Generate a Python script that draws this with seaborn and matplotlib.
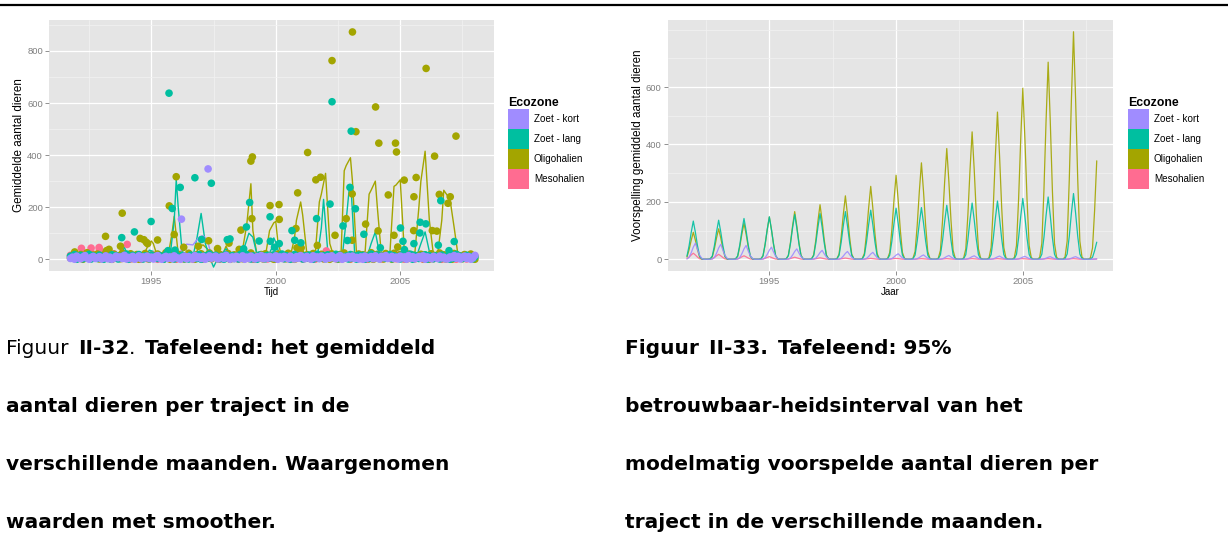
import numpy as np
import pandas as pd
import matplotlib
matplotlib.use("Agg")
import matplotlib.pyplot as plt
from matplotlib.lines import Line2D
from matplotlib.patches import Rectangle
from matplotlib.ticker import MultipleLocator
import seaborn as sns

# ---------------------------------------------------------------- zones
ZONES = ["Zoet - kort", "Zoet - lang", "Oligohalien", "Mesohalien"]
ZONE_COLORS = {"Zoet - kort": "#A08CFF", "Zoet - lang": "#00BFA0",
               "Oligohalien": "#A3A500", "Mesohalien": "#FF6C91"}

# ------------------------------------------ Figuur II-32: waarnemingen
OBS_START = 1991.75          # oktober 1991, daarna maandelijks

# lage maandwaarden per ecozone (aantal dieren)
laag_zoet_kort = [
    3, 8, 0, 12, 5, 2, 9, 14, 4, 0, 7, 11, 3, 6,
    10, 1, 5, 13, 2, 8, 0, 4, 12, 6, 9, 3, 15, 1,
    7, 4, 11, 0, 6, 13, 2, 9, 5, 12, 3, 8, 1, 10,
    14, 5, 0, 7, 11, 3, 9, 2, 13, 6, 4, 0, 8, 12,
    2, 10, 5, 1, 14, 6, 9, 3, 11, 0, 7, 13, 4, 8,
    12, 1, 6, 10, 3, 15, 5, 0, 9, 2, 11, 7, 4, 13,
    0, 8, 3, 12, 6, 1, 10, 5, 14, 2, 9, 4, 11, 7,
    5, 13, 0, 9, 3, 11, 7, 2, 12, 6, 1, 10, 4, 14,
    8, 2, 11, 5, 0, 13, 6, 9, 3, 12, 7, 1, 10, 4,
    13, 6, 2, 9, 14, 0, 8, 4, 11, 5, 12, 3, 7, 1,
    9, 0, 12, 4, 7, 10, 2, 13, 5, 1, 11, 6, 14, 3,
    6, 11, 3, 8, 1, 12, 5, 9, 0, 14, 4, 10, 2, 7,
    10, 4, 13, 0, 9, 6, 2, 11, 7, 3, 12, 5, 8, 1,
    2, 9, 6, 14, 4, 11, 1, 8, 12, 3, 10, 0, 5, 15]
laag_zoet_lang = [
    12, 4, 18, 0, 7, 15, 2, 10, 6, 19, 1, 13, 8, 3,
    16, 5, 0, 11, 9, 2, 17, 6, 14, 1, 8, 12, 4, 20,
    0, 10, 15, 3, 7, 18, 5, 1, 13, 9, 2, 16, 6, 11,
    3, 14, 8, 0, 19, 4, 12, 7, 1, 17, 10, 5, 15, 2,
    9, 1, 16, 6, 11, 3, 18, 0, 8, 13, 4, 20, 7, 10,
    15, 7, 2, 12, 0, 17, 9, 5, 14, 3, 11, 1, 19, 6,
    4, 18, 10, 1, 13, 6, 0, 16, 8, 12, 2, 15, 5, 9,
    17, 3, 11, 8, 20, 2, 14, 6, 0, 10, 18, 4, 12, 7,
    1, 13, 5, 16, 9, 0, 11, 19, 3, 7, 14, 2, 17, 8,
    10, 6, 19, 2, 15, 8, 4, 12, 1, 18, 5, 13, 0, 16,
    7, 15, 0, 11, 3, 20, 6, 9, 16, 2, 12, 8, 4, 14,
    18, 2, 13, 5, 10, 1, 17, 7, 11, 4, 19, 0, 15, 6,
    3, 12, 8, 17, 0, 14, 9, 2, 13, 6, 1, 16, 10, 5,
    11, 0, 16, 4, 19, 7, 12, 3, 8, 15, 5, 10, 2, 9]
laag_oligohalien = [
    5, 14, 22, 2, 9, 18, 0, 12, 25, 6, 3, 16, 10, 20,
    1, 8, 15, 23, 4, 11, 0, 19, 7, 13, 2, 24, 9, 17,
    6, 21, 3, 10, 18, 0, 14, 5, 22, 8, 1, 16, 12, 4,
    20, 7, 13, 2, 25, 9, 0, 17, 11, 3, 19, 6, 15, 1,
    8, 23, 4, 12, 0, 18, 10, 21, 2, 14, 6, 24, 3, 11,
    16, 1, 19, 7, 13, 5, 22, 0, 9, 17, 4, 12, 20, 2,
    10, 15, 3, 24, 6, 0, 13, 8, 18, 1, 21, 5, 11, 14,
    0, 9, 20, 4, 16, 11, 2, 23, 7, 13, 0, 18, 6, 25,
    12, 3, 17, 8, 1, 22, 10, 5, 15, 19, 2, 9, 14, 0,
    21, 6, 11, 0, 18, 4, 24, 13, 7, 2, 16, 10, 3, 20,
    4, 17, 8, 14, 2, 25, 0, 11, 19, 6, 12, 1, 22, 9,
    15, 0, 23, 5, 10, 18, 3, 13, 1, 20, 8, 16, 4, 12,
    7, 19, 2, 16, 11, 0, 21, 6, 14, 9, 24, 3, 17, 1,
    13, 8, 0, 22, 5, 15, 10, 2, 18, 4, 11, 20, 6, 0]
laag_mesohalien = [
    15, 8, 20, 12, 3, 18, 10, 22, 6, 14, 25, 9, 17, 4,
    11, 19, 2, 13, 7, 16, 0, 21, 5, 10, 15, 3, 12, 8,
    6, 1, 14, 9, 3, 11, 0, 7, 13, 2, 10, 5, 16, 4,
    0, 12, 6, 1, 9, 15, 3, 8, 11, 0, 14, 5, 2, 10,
    7, 3, 13, 0, 8, 11, 4, 16, 1, 9, 6, 12, 2, 14,
    10, 5, 0, 15, 3, 7, 12, 1, 9, 4, 13, 0, 8, 11,
    2, 14, 6, 9, 0, 12, 4, 10, 15, 3, 7, 1, 11, 5,
    13, 0, 8, 16, 4, 2, 11, 6, 0, 14, 9, 3, 12, 7,
    1, 10, 5, 12, 8, 15, 0, 4, 13, 6, 2, 11, 9, 3,
    16, 7, 2, 9, 13, 1, 10, 5, 14, 0, 8, 12, 4, 6,
    3, 11, 15, 0, 7, 9, 2, 13, 5, 10, 1, 14, 6, 8,
    12, 4, 9, 2, 16, 6, 11, 0, 8, 3, 13, 7, 1, 10,
    5, 13, 0, 11, 4, 8, 14, 2, 9, 12, 6, 0, 15, 3,
    9, 2, 12, 6, 0, 10, 4, 14, 7, 1, 11, 5, 8, 13]

# hogere tellingen (tijd, aantal)
hoog_zoet_kort = [(1996.21, 154), (1997.28, 347)]
hoog_zoet_lang = [
    (1993.81, 83), (1994.32, 105), (1994.99, 145), (1995.67, 33),
    (1995.71, 638), (1995.84, 195), (1995.95, 35), (1996.16, 276),
    (1996.75, 313), (1997.02, 76), (1997.41, 292), (1998.05, 75),
    (1998.16, 78), (1998.71, 40), (1998.82, 124), (1998.95, 218),
    (1999.33, 70), (1999.77, 163), (1999.78, 69), (1999.95, 46),
    (2000.14, 60), (2000.65, 110), (2000.76, 73), (2001.01, 63),
    (2001.64, 156), (2002.18, 212), (2002.26, 605), (2002.70, 128),
    (2002.88, 72), (2002.98, 276), (2003.03, 492), (2003.20, 194),
    (2003.54, 96), (2004.20, 44), (2005.01, 120), (2005.11, 69),
    (2005.17, 37), (2005.55, 60), (2005.79, 101), (2005.80, 142),
    (2006.03, 136), (2006.53, 54), (2006.63, 225), (2006.96, 33),
    (2007.17, 68)]
hoog_oligohalien = [
    (1991.92, 28), (1993.16, 88), (1993.20, 33), (1993.25, 31),
    (1993.30, 38), (1993.76, 50), (1993.83, 177), (1994.55, 80),
    (1994.70, 75), (1994.80, 65), (1994.85, 60), (1995.25, 74),
    (1995.72, 205), (1995.92, 95), (1996.00, 317), (1996.30, 46),
    (1996.89, 50), (1997.30, 71), (1997.66, 41), (1998.12, 62),
    (1998.53, 38), (1998.60, 112), (1999.00, 377), (1999.04, 156),
    (1999.06, 393), (1999.77, 206), (2000.13, 210), (2000.14, 153),
    (2000.81, 118), (2000.85, 44), (2000.88, 255), (2001.02, 44),
    (2001.28, 410), (2001.61, 305), (2001.67, 53), (2001.80, 315),
    (2002.26, 763), (2002.38, 92), (2002.83, 156), (2003.07, 251),
    (2003.07, 73), (2003.08, 873), (2003.22, 490), (2003.61, 135),
    (2003.85, 22), (2004.01, 585), (2004.11, 109), (2004.14, 446),
    (2004.52, 247), (2004.75, 92), (2004.81, 446), (2004.85, 412),
    (2004.90, 47), (2005.16, 304), (2005.54, 110), (2005.55, 240),
    (2005.64, 314), (2006.04, 733), (2006.29, 110), (2006.38, 396),
    (2006.47, 108), (2006.57, 249), (2006.92, 215), (2007.01, 240),
    (2007.24, 473)]
hoog_mesohalien = [(1992.19, 42), (1992.58, 43), (1992.90, 45),
                   (1992.92, 37), (1994.03, 57), (2002.03, 32)]

# smoother per ecozone (tijd, aantal)
smooth_zoet_kort = [(1991.75, 6), (1996.08, 8), (1996.25, 45), (1996.42, 58),
                    (1996.67, 55), (1996.92, 85), (1997.08, 90), (1997.25, 75),
                    (1997.42, 10), (1997.58, 5), (2008.0, 8)]
smooth_zoet_lang = [
    (1991.75, 5), (1993.67, 5), (1993.83, 30), (1993.92, 45), (1994.08, 10),
    (1994.75, 8), (1994.92, 35), (1995.08, 30), (1995.25, 5), (1995.75, 10),
    (1995.92, 150), (1996.0, 305), (1996.08, 200), (1996.25, 15),
    (1996.67, 10), (1996.83, 80), (1997.0, 176), (1997.17, 60),
    (1997.33, 10), (1997.5, -30), (1997.67, 5), (1997.83, 20), (1998.0, 40),
    (1998.17, 20), (1998.5, 10), (1998.75, 50), (1998.92, 100),
    (1999.08, 85), (1999.25, 15), (1999.67, 10), (1999.83, 40),
    (1999.92, 82), (2000.0, 65), (2000.17, 10), (2000.75, 10),
    (2000.92, 30), (2001.08, 25), (2001.25, 5), (2001.67, 10),
    (2001.83, 120), (2001.92, 230), (2002.08, 40), (2002.25, 5),
    (2002.67, 10), (2002.83, 150), (2002.96, 280), (2003.04, 250),
    (2003.17, 20), (2003.67, 10), (2003.83, 60), (2004.0, 105),
    (2004.17, 20), (2004.67, 10), (2004.83, 30), (2005.0, 45),
    (2005.17, 10), (2005.67, 15), (2005.83, 60), (2006.0, 105),
    (2006.17, 30), (2006.33, 10), (2006.75, 15), (2006.92, 30),
    (2007.08, 20), (2007.25, 5), (2007.92, 10)]
smooth_oligohalien = [
    (1991.75, 5), (1993.6, 8), (1993.83, 25), (1994.0, 10), (1994.67, 12),
    (1994.83, 45), (1995.0, 70), (1995.08, 60), (1995.25, 8), (1995.67, 10),
    (1995.83, 100), (1995.92, 165), (1996.08, 20), (1996.25, 5),
    (1996.75, 10), (1996.92, 50), (1997.08, 55), (1997.25, 40),
    (1997.42, 5), (1997.83, 10), (1998.0, 50), (1998.17, 15), (1998.5, 10),
    (1998.67, 40), (1998.83, 130), (1999.0, 290), (1999.08, 110),
    (1999.25, 15), (1999.58, 10), (1999.75, 110), (1999.92, 140),
    (2000.0, 145), (2000.08, 70), (2000.25, 5), (2000.58, 10),
    (2000.75, 80), (2000.83, 150), (2001.0, 220), (2001.08, 170),
    (2001.25, 20), (2001.58, 15), (2001.75, 220), (2001.83, 250),
    (2002.0, 330), (2002.17, 60), (2002.33, 10), (2002.62, 15),
    (2002.75, 340), (2002.83, 360), (2003.0, 390), (2003.08, 300),
    (2003.25, 10), (2003.58, 15), (2003.75, 250), (2003.83, 265),
    (2004.0, 300), (2004.08, 200), (2004.25, 10), (2004.58, 15),
    (2004.75, 280), (2004.83, 285), (2005.0, 305), (2005.17, 20),
    (2005.42, 10), (2005.58, 15), (2005.75, 200), (2005.83, 300),
    (2006.0, 415), (2006.17, 150), (2006.33, 20), (2006.5, 15),
    (2006.67, 150), (2006.75, 265), (2007.0, 230), (2007.17, 120),
    (2007.33, 10), (2007.92, 5)]
smooth_mesohalien = [(1991.75, 10), (1992.2, 20), (1992.6, 25), (1993.0, 20),
                     (1993.5, 8), (2008.0, 5)]

# --------------------------- Figuur II-33: modelmatige voorspelling
seizoenen = list(range(1992, 2009))      # winterseizoen (piek in januari)
piek_zoet_kort = [56, 52, 48, 42, 36, 31, 27, 24, 19, 15, 13, 12, 11, 10, 9, 9, 4]
piek_zoet_lang = [133, 136, 142, 148, 156, 159, 166, 171, 178, 180, 188, 196,
                  203, 212, 217, 229, 85]
piek_oligohalien = [94, 106, 125, 147, 166, 190, 221, 254, 293, 336, 386, 444,
                    513, 596, 687, 793, 490]
piek_mesohalien = [21, 17, 12, 9, 7, 5, 4, 3, 3, 2, 2, 2, 2, 2, 2, 2, 1]
# maandfactor juli..juni t.o.v. de seizoenspiek
maandprofiel = [0, 0, 0.01, 0.08, 0.35, 0.7, 1.0, 0.7, 0.35, 0.08, 0.01, 0]
maandprofiel_kort = [0, 0, 0, 0.02, 0.12, 0.4, 0.75, 1.0, 0.6, 0.25, 0.06, 0]
PRED_START, PRED_END = 1991.75, 2007.92

# ------------------------------------------------------------ frames
laag = {"Zoet - kort": laag_zoet_kort, "Zoet - lang": laag_zoet_lang,
        "Oligohalien": laag_oligohalien, "Mesohalien": laag_mesohalien}
hoog = {"Zoet - kort": hoog_zoet_kort, "Zoet - lang": hoog_zoet_lang,
        "Oligohalien": hoog_oligohalien, "Mesohalien": hoog_mesohalien}
smooth = {"Zoet - kort": smooth_zoet_kort, "Zoet - lang": smooth_zoet_lang,
          "Oligohalien": smooth_oligohalien, "Mesohalien": smooth_mesohalien}
pieken = {"Zoet - kort": piek_zoet_kort, "Zoet - lang": piek_zoet_lang,
          "Oligohalien": piek_oligohalien, "Mesohalien": piek_mesohalien}

draw_order = ["Mesohalien", "Oligohalien", "Zoet - lang", "Zoet - kort"]
rows = []
for z in draw_order:
    for i, v in enumerate(laag[z]):
        rows.append((OBS_START + i / 12, v, z))
    for t, v in hoog[z]:
        rows.append((t, v, z))
punten = pd.DataFrame(rows, columns=["Tijd", "Aantal", "Ecozone"])

lijnen = pd.DataFrame([(t, v, z) for z in draw_order for t, v in smooth[z]],
                      columns=["Tijd", "Aantal", "Ecozone"])

pred_rows = []
for z in draw_order:
    prof = maandprofiel_kort if z == "Zoet - kort" else maandprofiel
    for j, s in enumerate(seizoenen):
        for k in range(12):
            t = (s - 1) + 0.5 + k / 12
            if PRED_START - 1e-6 <= t <= PRED_END + 1e-6:
                pred_rows.append((t, pieken[z][j] * prof[k], z))
voorspelling = pd.DataFrame(pred_rows, columns=["Jaar", "Voorspelling", "Ecozone"])

# ------------------------------------------------------------ style
sns.set_theme(style="darkgrid")
plt.rcParams["font.family"] = ["Liberation Sans", "DejaVu Sans"]

W, H = 1228, 560
fig = plt.figure(figsize=(W / 100, H / 100), dpi=100)
fig.patch.set_facecolor("white")

ax1 = fig.add_axes([49.3 / W, 1 - 270.7 / H, 445 / W, 250.7 / H])
ax2 = fig.add_axes([667.7 / W, 1 - 270.7 / H, 445.6 / W, 250.7 / H])

TICK_GREY = "#7F7F7F"


def ggplot_axes(ax, xlim, ylim, yticks, xlabel, ylabel, ylab_x):
    ax.set_facecolor("#E5E5E5")
    for sp in ax.spines.values():
        sp.set_visible(False)
    ax.set_xlim(*xlim)
    ax.set_ylim(*ylim)
    ax.xaxis.set_major_locator(MultipleLocator(5))
    ax.xaxis.set_minor_locator(MultipleLocator(2.5))
    ax.set_yticks(yticks)
    ax.yaxis.set_minor_locator(MultipleLocator(100))
    ax.grid(True, which="major", color="white", lw=0.9)
    ax.grid(True, which="minor", color="#F2F2F2", lw=0.5)
    ax.set_axisbelow(True)
    ax.tick_params(which="major", length=3, width=0.6, color=TICK_GREY,
                   labelcolor=TICK_GREY, labelsize=6.8, pad=1.5,
                   bottom=True, left=True)
    ax.tick_params(which="minor", length=0)
    ax.set_xlabel(xlabel, fontsize=7, color="black", va="center")
    ax.xaxis.set_label_coords(0.5, -0.085)
    ax.set_ylabel(ylabel, fontsize=8.4, color="black", va="center")
    ax.yaxis.set_label_coords(ylab_x, 0.5)


# ---------------------------------------------------------- panel 1
sns.lineplot(data=lijnen, x="Tijd", y="Aantal", hue="Ecozone",
             palette=ZONE_COLORS, estimator=None, lw=1.0, legend=False,
             ax=ax1, zorder=2)
sns.scatterplot(data=punten, x="Tijd", y="Aantal", hue="Ecozone",
                palette=ZONE_COLORS, s=30, linewidth=0, legend=False,
                ax=ax1, zorder=3)
ggplot_axes(ax1, (1990.90, 2008.78), (-44, 919), [0, 200, 400, 600, 800],
            "Tijd", "Gemiddelde aantal dieren", -0.068)

# ---------------------------------------------------------- panel 2
sns.lineplot(data=voorspelling, x="Jaar", y="Voorspelling", hue="Ecozone",
             hue_order=draw_order, palette=ZONE_COLORS, estimator=None,
             lw=0.9, alpha=0.9, legend=False, ax=ax2)
ggplot_axes(ax2, (1990.99, 2008.57), (-40, 834), [0, 200, 400, 600],
            "Jaar", "Voorspelling gemiddeld aantal dieren", -0.066)


# --------------------------------------------------------- legends
def ecozone_legend(x_px, top_px):
    """ggplot-style fill legend: bold title, stacked square keys, labels."""
    fig.text(x_px / W, 1 - (top_px - 6) / H, "Ecozone", fontsize=8.8,
             fontweight="bold", ha="left", va="center", color="black")
    key_w, key_h = 21, 20
    for i, z in enumerate(ZONES):
        y0 = top_px + i * key_h
        fig.add_artist(Rectangle((x_px / W, 1 - (y0 + key_h) / H),
                                 key_w / W, key_h / H,
                                 transform=fig.transFigure,
                                 facecolor=ZONE_COLORS[z], edgecolor="none"))
        fig.text((x_px + key_w + 5) / W, 1 - (y0 + key_h / 2) / H, z,
                 fontsize=7.1, ha="left", va="center", color="black")


ecozone_legend(508, 109)
ecozone_legend(1128, 109)

# ------------------------------------------------------- top rule
fig.add_artist(Line2D([0, 1], [1 - 5 / H, 1 - 5 / H], transform=fig.transFigure,
                      color="black", lw=1.6))

# ------------------------------------------------------- captions
CAP_SIZE = 14.5
renderer = fig.canvas.get_renderer()


def caption_line(x_px, y_px, runs):
    """Draw mixed-weight text runs one after another on a baseline."""
    x = x_px
    for text, weight, extra in runs:
        t = fig.text(x / W, 1 - y_px / H, text, fontsize=CAP_SIZE,
                     fontweight=weight, family="DejaVu Sans",
                     ha="left", va="baseline", color="black")
        x += t.get_window_extent(renderer).width + extra


baselines = [354, 412, 470, 528]
cap1 = [
    [("Figuur ", "normal", 3), ("II-32", "bold", 0), (". ", "normal", 3),
     ("Tafeleend: het gemiddeld", "bold", 0)],
    [("aantal dieren per traject in de", "bold", 0)],
    [("verschillende maanden. Waargenomen", "bold", 0)],
    [("waarden met smoother.", "bold", 0)],
]
cap2 = [
    [("Figuur ", "bold", 3), ("II-33. ", "bold", 3),
     ("Tafeleend: 95%", "bold", 0)],
    [("betrouwbaar-heidsinterval van het", "bold", 0)],
    [("modelmatig voorspelde aantal dieren per", "bold", 0)],
    [("traject in de verschillende maanden.", "bold", 0)],
]
for y, runs in zip(baselines, cap1):
    caption_line(6, y, runs)
for y, runs in zip(baselines, cap2):
    caption_line(625, y, runs)

fig.savefig("out.png", dpi=100)
